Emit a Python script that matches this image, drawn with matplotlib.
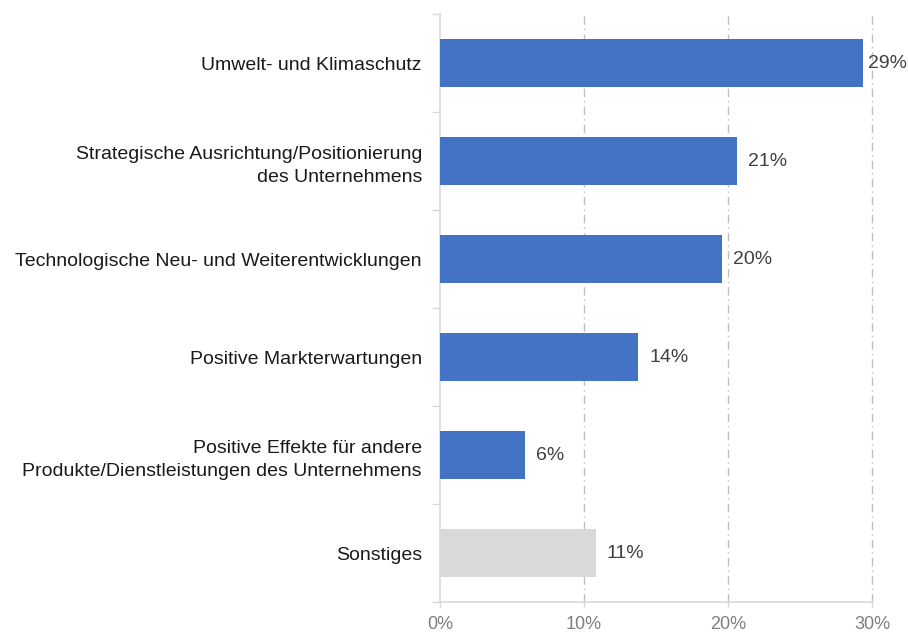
import matplotlib.pyplot as plt
import numpy as np
from matplotlib.ticker import FixedLocator

plt.rcParams['font.family'] = ['Liberation Sans', 'DejaVu Sans']

# Data
categories = ["Umwelt- und Klimaschutz",
              "Strategische Ausrichtung/Positionierung\ndes Unternehmens",
              "Technologische Neu- und Weiterentwicklungen",
              "Positive Markterwartungen",
              "Positive Effekte für andere\nProdukte/Dienstleistungen des Unternehmens",
              "Sonstiges"]
values = [29.4, 20.6, 19.6, 13.75, 5.9, 10.8]
value_labels = ["29%", "21%", "20%", "14%", "6%", "11%"]
bar_colors = ["#4472C4"] * 5 + ["#D9D9D9"]
x_ticks = [0, 10, 20, 30]
x_ticklabels = ["0%", "10%", "20%", "30%"]

fig = plt.figure(figsize=(9.08, 6.33), dpi=100)
ax = fig.add_axes([440/908, 1 - 602/633, 432/908, 588/633])

y = np.arange(len(categories))
ax.barh(y, values, height=0.49, color=bar_colors, zorder=3)

xmax = 30
for yi, v, lab in zip(y, values, value_labels):
    # labels near the right edge sit closer to the bar end
    off = 3 if v > xmax - 2 else 8
    ax.annotate(lab, (v, yi), xytext=(off, 0), textcoords="offset points",
                va="center", ha="left", fontsize=14, color="#404040")

ax.set_xlim(0, xmax)
ax.set_ylim(len(categories) - 0.5, -0.5)

ax.set_yticks(y)
ax.set_yticklabels(categories, fontsize=14, color="#1a1a1a", linespacing=1.45)
ax.yaxis.set_minor_locator(FixedLocator(np.arange(-0.5, len(categories), 1)))
ax.tick_params(axis="y", which="major", length=0, pad=13)
ax.tick_params(axis="y", which="minor", length=6, color="#D9D9D9", width=1)

ax.set_xticks(x_ticks)
ax.set_xticklabels(x_ticklabels, fontsize=13, color="#7f7f7f")
ax.tick_params(axis="x", length=4, color="#D9D9D9", width=1, pad=6)

# Gridlines (drawn by hand so the 30% line is not clipped)
for xt in x_ticks[1:]:
    ax.axvline(xt, color="#BFBFBF", linestyle=(0, (6, 3, 1, 3)), linewidth=1,
               zorder=0, clip_on=False)

for side in ["top", "right"]:
    ax.spines[side].set_visible(False)
for side in ["left", "bottom"]:
    ax.spines[side].set_color("#D9D9D9")
    ax.spines[side].set_linewidth(1.2)

plt.savefig("out.png", dpi=100)
